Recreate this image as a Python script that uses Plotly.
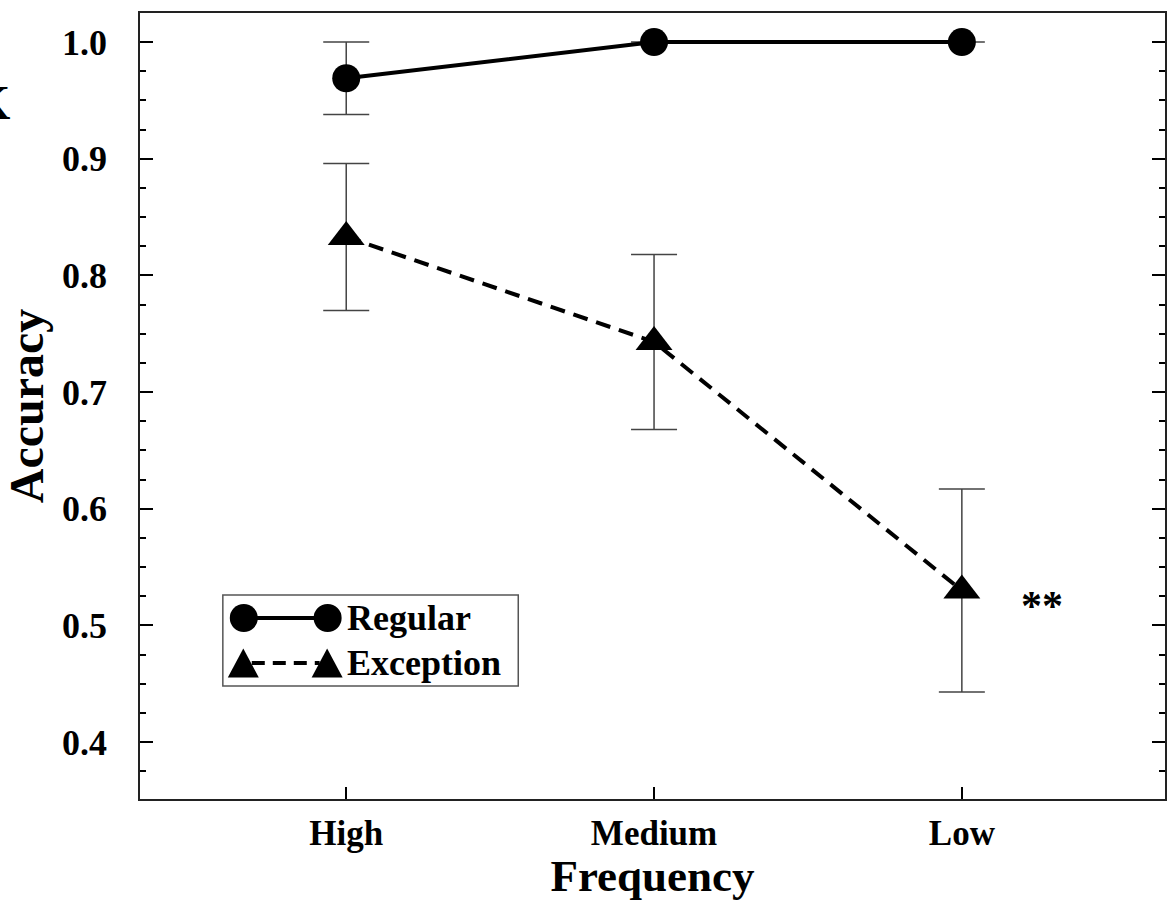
import plotly.graph_objects as go

# ---- data ----
categories = ["High", "Medium", "Low"]
regular_mean = [0.969, 1.0, 1.0]
regular_err = [0.031, 0.0, 0.0]
exception_mean = [0.833, 0.743, 0.530]
exception_err = [0.063, 0.075, 0.087]
y_ticks = [0.4, 0.5, 0.6, 0.7, 0.8, 0.9, 1.0]
sig_label = "**"

FONT = "Liberation Serif"
W, H = 1175, 901
ML, MR, MT, MB = 140, 8, 13, 102
PW = W - ML - MR
PH = H - MT - MB


def px(xp):
    return (xp - ML) / PW


def py(yp):
    return (H - MB - yp) / PH


fig = go.Figure()

fig.add_trace(go.Scatter(
    x=categories, y=regular_mean, name="Regular", mode="lines+markers",
    line=dict(color="black", width=4),
    marker=dict(symbol="circle", size=28, color="black"),
    error_y=dict(type="data", array=regular_err, visible=True,
                 color="#444444", thickness=1.5, width=23),
    showlegend=False,
))
fig.add_trace(go.Scatter(
    x=categories, y=exception_mean, name="Exception", mode="lines+markers",
    line=dict(color="black", width=4, dash="15px,9px"),
    marker=dict(symbol="triangle-up", size=32, color="black"),
    error_y=dict(type="data", array=exception_err, visible=True,
                 color="#444444", thickness=1.5, width=23),
    showlegend=False,
))

# significance mark next to the Low exception point
fig.add_annotation(x=2.262, y=exception_mean[2] - 0.013, xref="x", yref="y",
                   text=sig_label, showarrow=False,
                   font=dict(family=FONT, size=42, color="black", weight="bold"))

# ---- custom legend (box, glyphs, labels) ----
shapes = []
shapes.append(dict(type="rect", xref="paper", yref="paper",
                   x0=px(223), x1=px(519), y0=py(686), y1=py(595),
                   line=dict(color="#555555", width=1.5), fillcolor="white"))
r1, r2 = py(618), py(663)
shapes.append(dict(type="line", xref="paper", yref="paper",
                   x0=px(244), x1=px(328), y0=r1, y1=r1,
                   line=dict(color="black", width=4)))
for cx in (244, 328):
    shapes.append(dict(type="circle", xref="paper", yref="paper",
                       xsizemode="pixel", ysizemode="pixel",
                       xanchor=px(cx), yanchor=r1,
                       x0=-14, x1=14, y0=-14, y1=14,
                       fillcolor="black", line=dict(width=0)))
shapes.append(dict(type="line", xref="paper", yref="paper",
                   x0=px(252), x1=px(320), y0=r2, y1=r2,
                   line=dict(color="black", width=4, dash="13px,8px")))
for cx in (243.5, 327.5):
    shapes.append(dict(type="path", xref="paper", yref="paper",
                       xsizemode="pixel", ysizemode="pixel",
                       xanchor=px(cx), yanchor=r2,
                       path="M -15.5,-14.5 L 15.5,-14.5 L 0,14.5 Z",
                       fillcolor="black", line=dict(width=0)))
fig.update_layout(shapes=shapes)

for label, ry in (("Regular", r1), ("Exception", r2)):
    fig.add_annotation(x=px(345), y=ry, xref="paper", yref="paper",
                       xanchor="left", yanchor="middle", text=label,
                       showarrow=False,
                       font=dict(family=FONT, size=36, color="black", weight="bold"))

# partially visible glyph at far left edge
fig.add_annotation(x=px(12), y=py(103), xref="paper", yref="paper",
                   xanchor="right", yanchor="middle", text="K", showarrow=False,
                   font=dict(family=FONT, size=48, color="black", weight="bold"))

fig.update_layout(
    width=W, height=H, autosize=False,
    margin=dict(l=ML, r=MR, t=MT, b=MB),
    paper_bgcolor="white", plot_bgcolor="white",
    font=dict(family=FONT, color="black"),
    xaxis=dict(
        type="category", range=[-0.67, 2.66],
        showgrid=False, zeroline=False,
        showline=True, linecolor="#222222", linewidth=1.5, mirror=True,
        ticks="inside", ticklen=12, tickwidth=1.5, tickcolor="black",
        tickfont=dict(family=FONT, size=35, color="black", weight="bold"),
        ticklabelstandoff=2,
        title=dict(text="Frequency", standoff=0,
                   font=dict(family=FONT, size=45, color="black", weight="bold")),
    ),
    yaxis=dict(
        range=[0.3513, 1.0249],
        tickvals=y_ticks, tickformat=".1f",
        showgrid=False, zeroline=False,
        showline=True, linecolor="#222222", linewidth=1.5, mirror="ticks",
        ticks="inside", ticklen=13, tickwidth=1.5, tickcolor="black",
        minor=dict(dtick=0.025, tick0=0, ticks="inside", ticklen=6,
                   tickwidth=1.5, tickcolor="black", showgrid=False),
        tickfont=dict(family=FONT, size=36, color="black", weight="bold"),
        ticklabelstandoff=24,
        title=dict(text="Accuracy", standoff=6,
                   font=dict(family=FONT, size=48, color="black", weight="bold")),
    ),
)

fig.write_html("out.html")
